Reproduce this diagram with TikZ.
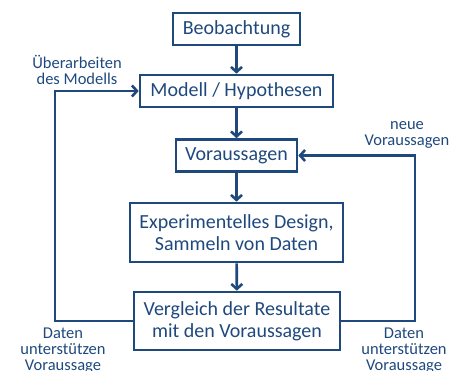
\documentclass[tikz,border=0pt]{standalone}
\usepackage{fontspec}
\setmainfont{Carlito}
\usetikzlibrary{arrows.meta}
\definecolor{dunkelblau}{HTML}{1F497D}
\begin{document}
\begin{tikzpicture}[x=1pt, y=-1pt,
    schritt/.style={rectangle, draw=dunkelblau, line width=2.6pt, text=dunkelblau, align=center,
        font=\fontsize{20}{22}\selectfont, minimum height=32pt, inner sep=2pt},
    hinweis/.style={text=dunkelblau, align=center, font=\fontsize{16.5}{16}\selectfont, inner sep=0pt},
    pfeil/.style={draw=dunkelblau, line width=2.6pt, -{Straight Barb[length=5pt, width=11pt, line width=2.6pt]}}
]
    \useasboundingbox (0,0) rectangle (465,371);

    \node[schritt, minimum width=127pt] (beob) at (236.5,29) {Beobachtung};
    \node[schritt, minimum width=193pt] (modell) at (236.5,91) {Modell / Hypothesen};
    \node[schritt, minimum width=121pt] (voraus) at (236.5,155.5) {Voraussagen};
    \node[schritt, minimum width=213pt, minimum height=59pt] (design) at (236.5,232.5) {
        Experimentelles Design,\\ Sammeln von Daten
    };
    \node[schritt, minimum width=206pt, minimum height=58pt] (vergleich) at (237,321) {
        Vergleich der Resultate\\ mit den Voraussagen
    };

    \coordinate (links) at (55,0);
    \coordinate (rechts) at (415,0);

    \draw[pfeil] (beob) -- (modell);
    \draw[pfeil] (modell) -- (voraus);
    \draw[pfeil] (voraus) -- (design);
    \draw[pfeil] (design) -- (vergleich);

    \draw[pfeil] (vergleich.west) -- (vergleich.west -| links) |- (modell.west);
    \draw[pfeil] (vergleich.east) -- (vergleich.east -| rechts) |- (voraus.east);

    \node[hinweis] (ueberarbeiten) at (77,69.5) {\"Uberarbeiten\\ des Modells};
    \node[hinweis] (neue) at (407,134.5) {neue\\ Voraussagen};
    \node[hinweis] (datenlinks) at (63,351) {Daten\\ unterst\"utzen\\ Voraussage};
    \node[hinweis] (datenrechts) at (404,351) {Daten\\ unterst\"utzen\\ Voraussage};
\end{tikzpicture}
\end{document}
